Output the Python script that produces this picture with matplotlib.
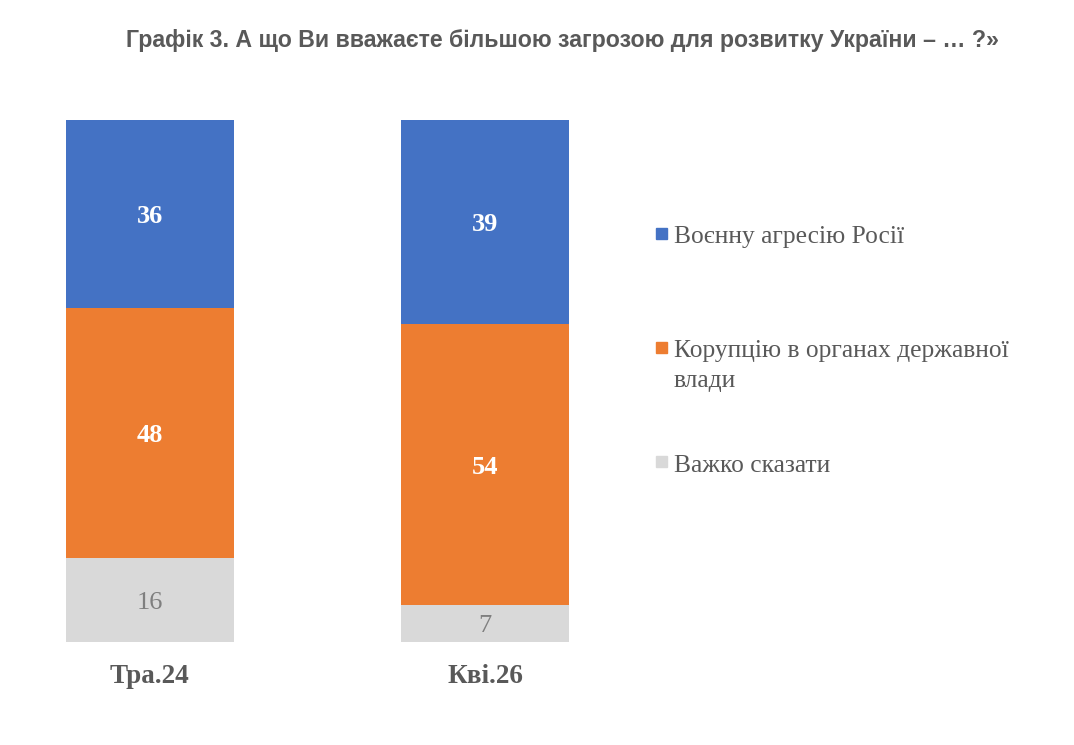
import matplotlib.pyplot as plt
from matplotlib.patches import Rectangle

periods = ["Тра.24", "Кві.26"]
war = [36, 39]
corruption = [48, 54]
hard_to_say = [16, 7]
series_names = ["Воєнну агресію Росії", "Корупцію в органах державної\nвлади", "Важко сказати"]
colors = ["#4472C4", "#ED7D31", "#D9D9D9"]
title = "Графік 3. А що Ви вважаєте більшою загрозою для розвитку України – … ?»"

serif = ["Liberation Serif", "DejaVu Serif"]

fig = plt.figure(figsize=(10.74, 7.45), dpi=100)
ax = fig.add_axes([66 / 1074, 103 / 745, 503 / 1074, 522 / 745])

x = [0, 1]
series = [hard_to_say, corruption, war]
cols = [colors[2], colors[1], colors[0]]
bottom = [0, 0]
for vals, c in zip(series, cols):
    bars = ax.bar(x, vals, width=0.5, bottom=bottom, color=c)
    txt_col = "#7F7F7F" if c == colors[2] else "white"
    weight = "normal" if c == colors[2] else "bold"
    for b, v, y0 in zip(bars, vals, bottom):
        ax.text(b.get_x() + b.get_width() / 2, y0 + v / 2, str(v), ha="center", va="center_baseline",
                color=txt_col, fontsize=19, fontweight=weight, family=serif)
    bottom = [a + b for a, b in zip(bottom, vals)]

ax.set_xlim(-0.25, 1.25)
ax.set_ylim(0, 100)
ax.set_yticks([])
ax.set_xticks(x)
ax.set_xticklabels(periods, fontsize=19.5, fontweight="bold", color="#595959", family=serif)
ax.tick_params(axis="x", length=0, pad=16)
for s in ax.spines.values():
    s.set_visible(False)

fig.text(562 / 1074, 1 - 40 / 745, title, ha="center", va="center", fontsize=16.7,
         fontweight="bold", color="#595959", family=["Liberation Sans", "DejaVu Sans"])

# legend drawn by hand, marker aligned with the first line of each entry
legend_y = [235, 349, 463]
for name, c, yy in zip(series_names, colors, legend_y):
    fig.patches.append(Rectangle((656 / 1074, 1 - (yy + 4) / 745), 11 / 1074, 11 / 745,
                                 transform=fig.transFigure, color=c))
    for i, line in enumerate(name.split("\n")):
        fig.text(674 / 1074, 1 - (yy + 30 * i) / 745, line, ha="left", va="center_baseline",
                 fontsize=18.4, color="#595959", family=serif)

fig.savefig("out.png", dpi=100)
